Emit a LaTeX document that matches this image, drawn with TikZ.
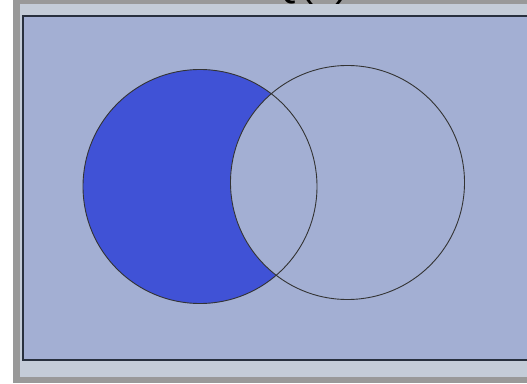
\documentclass[tikz,border=0pt]{standalone}
\usepackage{fontspec}
\setmainfont{Liberation Sans}
\definecolor{outergray}{RGB}{153,153,153}
\definecolor{bandgray}{RGB}{196,204,216}
\definecolor{panel}{RGB}{163,175,211}
\definecolor{edge}{RGB}{40,48,62}
\definecolor{setfill}{RGB}{64,82,214}
\begin{document}
\begin{tikzpicture}[x=1pt,y=-1pt,
  setline/.style={draw=black!80,line width=0.9pt},
  title/.style={font=\fontsize{40}{40}\selectfont,anchor=base,inner sep=0pt}]
\useasboundingbox (0,0) rectangle (527,383);
\fill[white] (0,0) rectangle (527,383);
\fill[outergray] (13,0) rectangle (527,383);
\node[title] (t) at (289,-4) {P-Q(a)};
\fill[bandgray] (20,4) rectangle (527,377);
\fill[panel] (23,16) rectangle (527,359.5);
\draw[edge,line width=2pt] (527,16) -- (23,16) -- (23,359.5) -- (527,359.5);
\coordinate (P) at (200,186.5);
\coordinate (Q) at (347.5,182.5);
\begin{scope}
  \fill[setfill] (P) circle (117);
  \fill[panel] (Q) circle (117);
\end{scope}
\draw[setline] (P) circle (117);
\draw[setline] (Q) circle (117);
\end{tikzpicture}
\end{document}
